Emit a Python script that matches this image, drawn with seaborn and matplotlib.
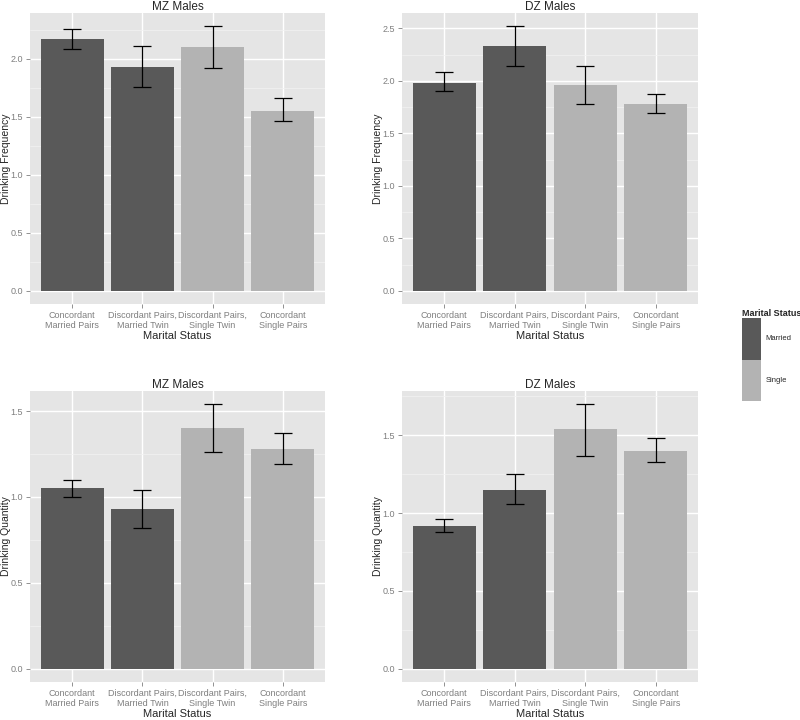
import numpy as np
import pandas as pd
import matplotlib
matplotlib.use('Agg')
import matplotlib.pyplot as plt
from matplotlib.ticker import MultipleLocator, FormatStrFormatter, AutoMinorLocator
from matplotlib.patches import Patch
import seaborn as sns

# categories and group membership
categories = ['Concordant\nMarried Pairs', 'Discordant Pairs,\nMarried Twin',
              'Discordant Pairs,\nSingle Twin', 'Concordant\nSingle Pairs']
marital = ['Married', 'Married', 'Single', 'Single']

# means and error bar limits
mz_freq = [2.17, 1.93, 2.10, 1.55]
mz_freq_lo = [2.08, 1.76, 1.92, 1.46]
mz_freq_hi = [2.26, 2.11, 2.28, 1.66]

dz_freq = [1.98, 2.33, 1.96, 1.78]
dz_freq_lo = [1.90, 2.14, 1.78, 1.69]
dz_freq_hi = [2.08, 2.52, 2.14, 1.87]

mz_qty = [1.05, 0.93, 1.40, 1.28]
mz_qty_lo = [1.00, 0.82, 1.26, 1.19]
mz_qty_hi = [1.10, 1.04, 1.54, 1.37]

dz_qty = [0.92, 1.15, 1.54, 1.40]
dz_qty_lo = [0.88, 1.06, 1.37, 1.33]
dz_qty_hi = [0.96, 1.25, 1.70, 1.48]

palette = {'Married': '#595959', 'Single': '#B3B3B3'}

sns.set_style('white')
plt.rcParams['font.family'] = ['Liberation Sans', 'DejaVu Sans']

fig = plt.figure(figsize=(8, 7.2), dpi=100)
W, H = 800, 720


def px_axes(left, top, right, bottom):
    return fig.add_axes([left / W, 1 - bottom / H, (right - left) / W, (bottom - top) / H])


panels = [
    (px_axes(30, 13, 325, 304), 'MZ Males', 'Drinking Frequency', mz_freq, mz_freq_lo, mz_freq_hi),
    (px_axes(402, 13, 698, 304), 'DZ Males', 'Drinking Frequency', dz_freq, dz_freq_lo, dz_freq_hi),
    (px_axes(30, 391, 325, 682), 'MZ Males', 'Drinking Quantity', mz_qty, mz_qty_lo, mz_qty_hi),
    (px_axes(402, 391, 698, 682), 'DZ Males', 'Drinking Quantity', dz_qty, dz_qty_lo, dz_qty_hi),
]

for ax, title, ylab, vals, lo, hi in panels:
    df = pd.DataFrame({'status': categories, 'value': vals, 'Marital Status': marital})
    sns.barplot(data=df, x='status', y='value', hue='Marital Status', order=categories,
                palette=palette, dodge=False, width=0.9, saturation=1, legend=False,
                linewidth=0, edgecolor='none', ax=ax)
    vals = np.array(vals)
    pos = np.arange(len(categories))
    ax.errorbar(pos, vals, yerr=[vals - np.array(lo), np.array(hi) - vals], fmt='none',
                ecolor='black', elinewidth=0.9, capsize=6.8, capthick=0.9, zorder=5)
    top = max(hi)
    ax.set_ylim(-0.05 * top, 1.05 * top)
    ax.set_xlim(-0.6, 3.6)
    ax.set_facecolor('#E5E5E5')
    ax.yaxis.set_major_locator(MultipleLocator(0.5))
    ax.yaxis.set_minor_locator(AutoMinorLocator(2))
    ax.yaxis.set_major_formatter(FormatStrFormatter('%.1f'))
    ax.grid(which='major', color='white', lw=1.0)
    ax.grid(which='minor', axis='y', color='#F2F2F2', lw=0.5)
    ax.set_axisbelow(True)
    for s in ax.spines.values():
        s.set_visible(False)
    ax.tick_params(axis='both', which='major', labelsize=6.5, colors='#7F7F7F',
                   length=3, width=0.6, pad=2, left=True, bottom=True)
    ax.tick_params(axis='y', which='minor', length=0)
    for lbl in ax.get_xticklabels():
        lbl.set_linespacing(1.1)
    ax.set_title(title, fontsize=8.5, pad=2)
    ax.set_xlabel('Marital Status', fontsize=8, labelpad=1)
    ax.set_ylabel(ylab, fontsize=7.5, labelpad=0)

handles = [Patch(facecolor=palette[k], edgecolor='none', label=k) for k in ['Married', 'Single']]
leg = fig.legend(handles=handles, title='Marital Status', loc='upper left',
                 bbox_to_anchor=(742 / W, 1 - 309 / H), frameon=False, fontsize=5.5,
                 handlelength=2.5, handleheight=8.0, labelspacing=0, handletextpad=0.6,
                 borderpad=0, borderaxespad=0,
                 title_fontproperties={'weight': 'bold', 'size': 6.5})
leg._legend_box.align = 'left'

fig.savefig('out.png', dpi=100)
